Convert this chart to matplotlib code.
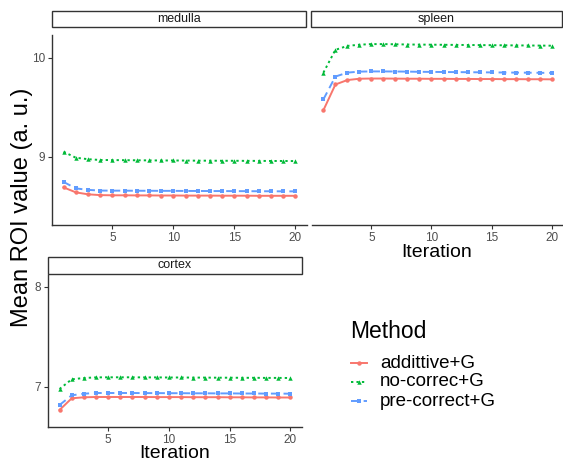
import numpy as np
import matplotlib
matplotlib.use("Agg")
import matplotlib.pyplot as plt
from matplotlib.patches import Rectangle
from matplotlib.lines import Line2D

plt.rcParams['font.family'] = ['Liberation Sans', 'DejaVu Sans']

# data
iteration = list(range(1, 21))
methods = ["addittive+G", "no-correc+G", "pre-correct+G"]

medulla_add = [8.69, 8.64, 8.62, 8.612, 8.61, 8.61, 8.609, 8.609, 8.608, 8.608,
               8.607, 8.607, 8.607, 8.606, 8.606, 8.606, 8.605, 8.605, 8.605, 8.605]
medulla_noc = [9.05, 8.99, 8.975, 8.967, 8.966, 8.965, 8.964, 8.963, 8.962, 8.962,
               8.961, 8.96, 8.96, 8.959, 8.959, 8.958, 8.958, 8.957, 8.957, 8.956]
medulla_pre = [8.745, 8.68, 8.665, 8.658, 8.657, 8.657, 8.656, 8.656, 8.655, 8.655,
               8.654, 8.654, 8.653, 8.653, 8.652, 8.652, 8.651, 8.651, 8.65, 8.65]

spleen_add = [9.47, 9.73, 9.775, 9.788, 9.79, 9.79, 9.789, 9.788, 9.788, 9.787,
              9.787, 9.786, 9.786, 9.785, 9.785, 9.784, 9.784, 9.783, 9.783, 9.782]
spleen_noc = [9.85, 10.08, 10.12, 10.132, 10.138, 10.138, 10.136, 10.134, 10.133, 10.132,
              10.131, 10.13, 10.129, 10.128, 10.127, 10.126, 10.125, 10.124, 10.123, 10.122]
spleen_pre = [9.58, 9.81, 9.85, 9.86, 9.862, 9.862, 9.861, 9.86, 9.858, 9.857,
              9.856, 9.855, 9.854, 9.853, 9.852, 9.851, 9.85, 9.849, 9.848, 9.847]

cortex_add = [6.77, 6.887, 6.897, 6.9, 6.9, 6.9, 6.9, 6.9, 6.899, 6.899,
              6.899, 6.898, 6.898, 6.898, 6.897, 6.897, 6.896, 6.896, 6.895, 6.895]
cortex_noc = [6.98, 7.077, 7.09, 7.096, 7.097, 7.097, 7.097, 7.096, 7.096, 7.095,
              7.095, 7.094, 7.094, 7.093, 7.093, 7.092, 7.092, 7.091, 7.091, 7.09]
cortex_pre = [6.82, 6.917, 6.933, 6.94, 6.94, 6.94, 6.94, 6.939, 6.939, 6.938,
              6.938, 6.937, 6.937, 6.936, 6.936, 6.935, 6.935, 6.934, 6.934, 6.933]

colors = ["#F8766D", "#00BA38", "#619CFF"]
markers = ["o", "^", "s"]
styles = ["-", (0, (1.2, 1.6)), (0, (4, 2.5))]

W, H = 563, 462
fig = plt.figure(figsize=(W / 100, H / 100), dpi=100)


def fx(x):
    return x / W


def fy(y):
    return 1 - y / H


def box(l, t, r, b):
    return [l / W, 1 - b / H, (r - l) / W, (b - t) / H]


def strip(l, t, r, b, label):
    fig.patches.append(Rectangle((fx(l), fy(b)), (r - l) / W, (b - t) / H,
                                 transform=fig.transFigure, facecolor="white",
                                 edgecolor="#333333", linewidth=1.0))
    fig.text(fx((l + r) / 2), fy((t + b) / 2), label, ha="center", va="center",
             fontsize=9, color="#1A1A1A")


def panel(rect, series, ylim, yticks, show_y=True):
    ax = fig.add_axes(rect)
    for vals, c, m, ls in zip(series, colors, markers, styles):
        ax.plot(iteration, vals, color=c, marker=m, linestyle=ls, linewidth=1.4,
                markersize=3.2, markeredgewidth=0)
    ax.set_xlim(0.05, 20.95)
    ax.set_ylim(*ylim)
    ax.set_xticks([5, 10, 15, 20])
    ax.set_yticks(yticks)
    for s in ["top", "right"]:
        ax.spines[s].set_visible(False)
    for s in ["left", "bottom"]:
        ax.spines[s].set_color("#333333")
        ax.spines[s].set_linewidth(1.0)
    ax.tick_params(length=3, width=0.8, color="#333333", labelsize=8.5,
                   labelcolor="#4D4D4D", pad=2)
    if not show_y:
        ax.spines["left"].set_visible(False)
        ax.tick_params(axis="y", left=False, labelleft=False)
    return ax


panel(box(52, 35, 307, 225), [medulla_add, medulla_noc, medulla_pre],
      (8.31, 10.23), [9, 10])
strip(52, 11, 306, 27, "medulla")

panel(box(312, 35, 563, 225), [spleen_add, spleen_noc, spleen_pre],
      (8.31, 10.23), [9, 10], show_y=False)
strip(311, 11, 562, 27, "spleen")

panel(box(48, 275, 302, 427), [cortex_add, cortex_noc, cortex_pre],
      (6.6, 8.12), [7, 8])
strip(48, 257, 302, 274, "cortex")

# axis titles
fig.text(fx(437), fy(257), "Iteration", ha="center", va="baseline", fontsize=14)
fig.text(fx(175), fy(458), "Iteration", ha="center", va="baseline", fontsize=14)
fig.text(fx(22), fy(207), "Mean ROI value (a. u.)", rotation=90,
         ha="center", va="center", fontsize=17)

# legend, drawn by hand to match the ggplot layout
fig.text(fx(350), fy(332), "Method", ha="left", va="center", fontsize=16.5)
for i, (lab, c, m, ls) in enumerate(zip(methods, colors, markers, styles)):
    yy = fy(363 + 19 * i)
    fig.add_artist(Line2D([fx(351), fx(367)], [yy, yy], color=c, linestyle=ls,
                          linewidth=1.4, transform=fig.transFigure))
    fig.add_artist(Line2D([fx(359)], [yy], color=c, marker=m, markersize=3.2,
                          markeredgewidth=0, linestyle="none",
                          transform=fig.transFigure))
    fig.text(fx(380), yy, lab, ha="left", va="center", fontsize=13.5)

fig.savefig("out.png", dpi=100)
